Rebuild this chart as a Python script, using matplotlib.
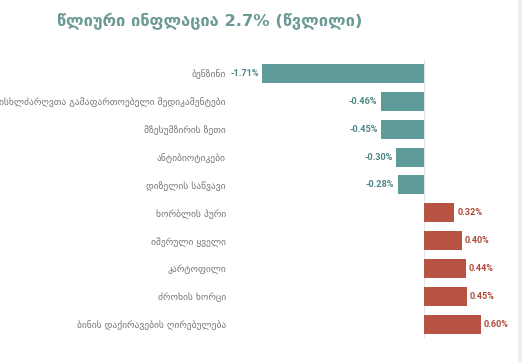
import matplotlib.pyplot as plt
from matplotlib.patches import Rectangle

# data
items = ['ბენზინი', 'სისხლძარღვთა გამაფართოებელი მედიკამენტები', 'მზესუმზირის ზეთი',
         'ანტიბიოტიკები', 'დიზელის საწვავი', 'ხორბლის პური', 'იმერული ყველი',
         'კარტოფილი', 'ძროხის ხორცი', 'ბინის დაქირავების ღირებულება']
values = [-1.71, -0.46, -0.45, -0.30, -0.28, 0.32, 0.40, 0.44, 0.45, 0.60]
title = 'წლიური ინფლაცია 2.7% (წვლილი)'

teal = '#5e9a97'
teal_txt = '#4a8783'
red = '#b65343'
red_txt = '#b04a3b'

W, H = 522, 362
fig = plt.figure(figsize=(W / 100, H / 100), dpi=100)
fig.patch.set_facecolor('white')

# grey strip at the right edge
fig.patches.append(Rectangle((518 / W, 0), 4 / W, 1, transform=fig.transFigure,
                             facecolor='#f0f0f0', edgecolor='none'))

ax = fig.add_axes([230 / W, 1 - 338 / H, 275 / W, (338 - 59.6) / H])
pos = list(range(len(items)))
colors = [teal if v < 0 else red for v in values]
ax.barh(pos, values, height=0.68, color=colors)
ax.set_xlim(-(424 - 230) / 94.5, (505 - 424) / 94.5)
ax.set_ylim(9.5, -0.5)
ax.axvline(0, color='#e4e4e4', lw=0.8, zorder=0)

for p, v in zip(pos, values):
    txt = '%.2f%%' % v
    if v < 0:
        ax.text(v - 0.035, p, txt, ha='right', va='center', fontsize=6.6,
                fontweight='bold', color=teal_txt, family='Roboto')
    else:
        ax.text(v + 0.035, p, txt, ha='left', va='center', fontsize=6.6,
                fontweight='bold', color=red_txt, family='Roboto')

ax.set_yticks(pos)
ax.set_yticklabels(items, fontsize=6.8, color='#777777')
ax.tick_params(axis='y', length=0, pad=3)
ax.set_xticks([])
for s in ax.spines.values():
    s.set_visible(False)

fig.text(57 / W, 1 - 21 / H, title, fontsize=11.8, fontweight='bold',
         color='#6a9996', va='center', ha='left')

fig.savefig('out.png', dpi=100)
